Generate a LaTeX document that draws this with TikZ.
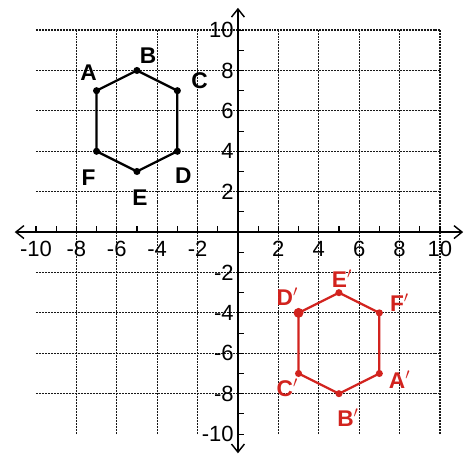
\documentclass[tikz,border=0pt]{standalone}
\usepackage{fontspec}
\setmainfont{Liberation Sans}
\usetikzlibrary{positioning, arrows.meta}
\definecolor{penred}{HTML}{D2231E}

\begin{document}
\begin{tikzpicture}[x=0.5cm, y=0.5cm,
    gridline/.style={black!90, dash pattern=on 1.4pt off 0.7pt, line width=0.85pt},
    axisline/.style={black, line width=1pt, {Straight Barb[length=2mm,width=3.2mm]}-{Straight Barb[length=2mm,width=3.2mm]}},
    numlabel/.style={font=\fontsize{15.5}{15.5}\selectfont, inner sep=0pt},
    ptlabel/.style={font=\fontsize{16}{16}\selectfont\bfseries, inner sep=0pt},
    hexline/.style={line width=1.6pt, line join=round},
    vertexdot/.style={circle, fill, inner sep=0pt, minimum size=5pt}]
    \useasboundingbox (-11.78,-10.99) rectangle (11.34,11.49);

    % Draw the grid paper
    \draw[gridline] (-10,-10) grid (10,10);

    % Axes with ticks
    \coordinate (xmin) at (-11.05,0);
    \coordinate (xmax) at (11.15,0);
    \coordinate (ymin) at (0,-10.95);
    \coordinate (ymax) at (0,11.1);
    \draw[axisline] (xmin) -- (xmax);
    \draw[axisline] (ymin) -- (ymax);
    \foreach \i in {-10,...,10} {
        \draw[line width=0.8pt] (\i,0) -- (\i,0.3);
        \draw[line width=0.8pt] (0,\i) -- (0.3,\i);
    }

    % Numbers on the axes
    \foreach \i in {-10,-8,-6,-4,-2,2,4,6,8,10} {
        \node[numlabel] (xl\i) at (\i,-0.85) {\i};
        \node[numlabel, anchor=east] (yl\i) at (-0.2,\i) {\i};
    }

    % Hexagon ABCDEF (black)
    \coordinate (A) at (-7,7);
    \coordinate (B) at (-5,8);
    \coordinate (C) at (-3,7);
    \coordinate (D) at (-3,4);
    \coordinate (E) at (-5,3);
    \coordinate (F) at (-7,4);
    \draw[hexline] (A) -- (B) -- (C) -- (D) -- (E) -- (F) -- cycle;
    \foreach \p in {A,B,C,D,E,F} \node[vertexdot] (dot\p) at (\p) {};
    \node[ptlabel] (labA) at (-7.4,7.9) {A};
    \node[ptlabel] (labB) at (-4.45,8.75) {B};
    \node[ptlabel] (labC) at (-1.9,7.5) {C};
    \node[ptlabel] (labD) at (-2.7,2.8) {D};
    \node[ptlabel] (labE) at (-4.85,1.7) {E};
    \node[ptlabel] (labF) at (-7.4,2.7) {F};

    % Image hexagon A'B'C'D'E'F' (red)
    \coordinate (A') at (7,-7);
    \coordinate (B') at (5,-8);
    \coordinate (C') at (3,-7);
    \coordinate (D') at (3,-4);
    \coordinate (E') at (5,-3);
    \coordinate (F') at (7,-4);
    \draw[hexline, penred] (A') -- (B') -- (C') -- (D') -- (E') -- (F') -- cycle;
    \foreach \p in {A',B',C',E',F'} \node[vertexdot, penred] at (\p) {};
    \node[vertexdot, penred, minimum size=7pt] (dotD') at (D') {};
    \node[ptlabel, penred] (labA') at (8.0,-7.3) {A$'$};
    \node[ptlabel, penred] (labB') at (5.45,-9.2) {B$'$};
    \node[ptlabel, penred] (labC') at (2.45,-7.7) {C$'$};
    \node[ptlabel, penred] (labD') at (2.45,-3.2) {D$'$};
    \node[ptlabel, penred] (labE') at (5.15,-2.3) {E$'$};
    \node[ptlabel, penred] (labF') at (8.0,-3.5) {F$'$};
\end{tikzpicture}
\end{document}
